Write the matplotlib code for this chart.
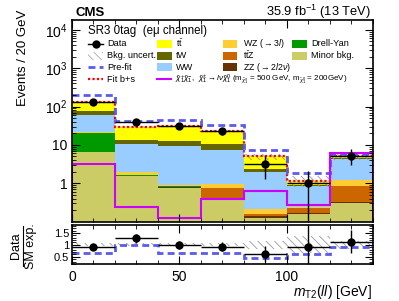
import numpy as np
import matplotlib
matplotlib.use("Agg")
import matplotlib.pyplot as plt
from matplotlib.patches import Rectangle
from matplotlib.lines import Line2D
from matplotlib.ticker import FixedLocator, MultipleLocator, LogLocator, NullFormatter

plt.rcParams['font.family'] = ['Liberation Sans', 'DejaVu Sans']
plt.rcParams['mathtext.fontset'] = 'custom'
plt.rcParams['mathtext.rm'] = 'Liberation Sans'
plt.rcParams['mathtext.it'] = 'Liberation Sans:italic'
plt.rcParams['mathtext.bf'] = 'Liberation Sans:bold'
plt.rcParams['hatch.linewidth'] = 0.6

# ---------------- data ----------------
bin_edges = [0, 20, 40, 60, 80, 100, 120, 140]
minor_bkg = [6.6, 1.52, 0.77, 0.38, 0.127, 0.155, 0.31]
zz = [0.05, 0.02, 0.02, 0.03, 0.010, 0.010, 0.02]
ttz = [0.05, 0.03, 0.02, 0.36, 0.018, 0.062, 0.52]
drell_yan = [13.9, 0.08, 0.02, 0.0, 0.0, 0.0, 0.0]
wz = [1.4, 0.30, 0.07, 0.21, 0.063, 0.013, 0.40]
ww = [40.0, 8.35, 8.5, 6.62, 1.75, 0.595, 3.15]
tw = [13.7, 3.0, 3.1, 3.3, 0.45, 0.085, 0.20]
ttbar = [57.0, 16.2, 18.9, 11.9, 2.65, 0.23, 0.47]

data = [128, 38.5, 31, 22.8, 3.13, 1.04, 5.3]
data_err_lo = [11, 6.2, 5.6, 4.8, 1.8, 1.0, 2.35]
data_err_hi = [11, 6.2, 5.6, 4.8, 2.1, 1.0, 2.4]
prefit = [198, 41.6, 46, 34, 7.6, 1.86, 5.7]
signal = [3.1, 0.236, 0.124, 0.40, 0.63, 0.277, 6.3]
band_lo = [0.95, 0.95, 0.95, 0.95, 0.82, 0.68, 0.82]
band_hi = [1.06, 1.06, 1.06, 1.06, 1.17, 1.35, 1.15]

ratio = [0.93, 1.27, 0.99, 0.93, 0.63, 0.93, 1.14]
ratio_err_lo = [0.08, 0.19, 0.18, 0.20, 0.36, 0.93, 0.48]
ratio_err_hi = [0.08, 0.19, 0.18, 0.20, 0.33, 1.00, 0.48]
ratio_prefit = [0.68, 0.99, 0.68, 0.68, 0.43, 0.61, 0.93]

components = [
    ("Minor bkg.", minor_bkg, "#CCCC66"),
    ("ZZ", zz, "#663300"),
    ("ttZ", ttz, "#CC6600"),
    ("Drell-Yan", drell_yan, "#009900"),
    ("WZ", wz, "#FFCC33"),
    ("WW", ww, "#99CCFF"),
    ("tW", tw, "#666600"),
    ("ttbar", ttbar, "#FFFF00"),
]
col = dict((n, c) for n, _, c in components)

W, H = 399, 301
fig = plt.figure(figsize=(W / 100, H / 100), dpi=100)

def fx(x):
    return x / W

def fy(y):
    return 1 - y / H

ax = fig.add_axes([fx(72), fy(221.7), fx(372.7) - fx(72), fy(20) - fy(221.7)])
rx = fig.add_axes([fx(72), fy(264), fx(372.7) - fx(72), fy(225) - fy(264)])

edges = np.array(bin_edges, dtype=float)
centers = 0.5 * (edges[:-1] + edges[1:])
widths = np.diff(edges)

bottom = np.full(len(centers), 1e-3)
for name, vals, c in components:
    top = bottom + np.array(vals)
    ax.stairs(top, edges, baseline=bottom, fill=True, color=c, lw=0)
    bottom = top
total = bottom

# uncertainty band
ax.bar(centers, total * (np.array(band_hi) - np.array(band_lo)), bottom=total * np.array(band_lo),
       width=widths, fill=False, hatch='\\\\\\\\', edgecolor='#999999', linewidth=0)
# fit b+s
ax.stairs(total, edges, baseline=None, color='red', ls=(0, (1, 1)), lw=1.6)
# pre-fit
ax.stairs(prefit, edges, baseline=None, color='#5b5bea', ls=(0, (2.5, 1.5)), lw=2.0)
# signal
ax.stairs(signal, edges, baseline=1e-3, color='#CC00FF', lw=1.5)
# data
ax.errorbar(centers, data, xerr=widths / 2, yerr=[data_err_lo, data_err_hi], fmt='o',
            color='black', ms=5, lw=1, capsize=0)

ax.set_yscale('log')
ax.set_xlim(0, 140)
ax.set_ylim(0.1, 1.8e4)
ax.yaxis.set_major_locator(FixedLocator([1, 10, 100, 1000, 10000]))
ax.set_yticklabels(['1', '10', '$10^{2}$', '$10^{3}$', '$10^{4}$'])
ax.yaxis.set_minor_locator(LogLocator(base=10, subs=np.arange(2, 10)))
ax.yaxis.set_minor_formatter(NullFormatter())
ax.xaxis.set_major_locator(MultipleLocator(50))
ax.xaxis.set_minor_locator(MultipleLocator(10))
ax.set_xticklabels([])

for a in (ax, rx):
    a.tick_params(which='both', direction='in', top=True, right=True, labelsize=10, pad=3)
    a.tick_params(which='major', length=6, width=0.8)
    a.tick_params(which='minor', length=3, width=0.6)
    for s in a.spines.values():
        s.set_linewidth(1.2)

# ratio panel
rx.bar(centers, np.array(band_hi) - np.array(band_lo), bottom=band_lo, width=widths,
       fill=False, hatch='\\\\\\\\', edgecolor='#999999', linewidth=0)
rx.stairs(ratio_prefit, edges, baseline=None, color='#5b5bea', ls=(0, (2.5, 1.5)), lw=2.0)
rx.errorbar(centers, ratio, xerr=widths / 2, yerr=[ratio_err_lo, ratio_err_hi], fmt='o',
            color='black', ms=5, lw=1, capsize=0)
rx.set_xlim(0, 140)
rx.set_ylim(0.2, 1.83)
rx.yaxis.set_major_locator(FixedLocator([0.5, 1, 1.5]))
rx.set_yticklabels(['0.5', '1', '1.5'])
rx.yaxis.set_minor_locator(MultipleLocator(0.1))
rx.xaxis.set_major_locator(MultipleLocator(50))
rx.xaxis.set_minor_locator(MultipleLocator(10))
rx.tick_params(axis='y', which='major', labelsize=8, pad=2)
rx.tick_params(axis='x', which='major', pad=4)

# labels
fig.text(fx(23), fy(10), 'Events / 20 GeV', rotation=90, ha='center', va='top', fontsize=9.5)
fig.text(fx(16.5), fy(246), 'Data', rotation=90, ha='center', va='center', fontsize=9)
fig.text(fx(31), fy(246), 'SM exp.', rotation=90, ha='center', va='center', fontsize=9)
fig.add_artist(Line2D([fx(23.3), fx(23.3)], [fy(226), fy(266)], transform=fig.transFigure,
                      color='black', lw=0.8))
fig.text(fx(372), fy(296), r'$m_{\mathrm{T2}}(ll)$ [GeV]', ha='right', va='baseline', fontsize=10)
fig.text(fx(75), fy(16), 'CMS', ha='left', va='baseline', fontsize=9.5, fontweight='bold')
fig.text(fx(371), fy(16), r'35.9 fb$^{-1}$ (13 TeV)', ha='right', va='baseline', fontsize=9.3)
fig.text(fx(88), fy(34), 'SR3 0tag  (e\u03bc channel)', ha='left', va='baseline', fontsize=8.3)

# legend
lfs = 6.6

def legtext(x, y, s, fs=lfs):
    fig.text(fx(x), fy(y), s, ha='left', va='center', fontsize=fs)

def legbox(x0, x1, y, color, hatch=None):
    h = 7.5
    if hatch:
        r = Rectangle((fx(x0), fy(y + h / 2)), fx(x1) - fx(x0), fy(y - h / 2) - fy(y + h / 2),
                      transform=fig.transFigure, fill=False, hatch=hatch, edgecolor='#aaaaaa', lw=0)
    else:
        r = Rectangle((fx(x0), fy(y + h / 2)), fx(x1) - fx(x0), fy(y - h / 2) - fy(y + h / 2),
                      transform=fig.transFigure, facecolor=color, edgecolor='none')
    fig.add_artist(r)

def legline(x0, x1, y, **kw):
    fig.add_artist(Line2D([fx(x0), fx(x1)], [fy(y), fy(y)], transform=fig.transFigure, **kw))

rows = [44, 56, 67, 79]
legline(88, 103, rows[0], color='black', lw=1)
fig.add_artist(Line2D([fx(95.5)], [fy(rows[0])], transform=fig.transFigure, marker='o', ms=5, color='black'))
legtext(107, rows[0], 'Data')
legbox(88, 103, rows[1], None, hatch='\\\\\\\\')
legtext(107, rows[1], 'Bkg. uncert.')
legline(88, 103, rows[2], color='#5b5bea', ls=(0, (2.5, 1.5)), lw=2)
legtext(107, rows[2], 'Pre-fit')
legline(88, 103, rows[3], color='red', ls=(0, (1, 1)), lw=1.6)
legtext(107, rows[3], 'Fit b+s')

legbox(157, 172, rows[0], col['ttbar'])
legtext(176, rows[0] - 0.5, r'$\mathrm{t\bar{t}}$', fs=6.3)
legbox(157, 172, rows[1], col['tW'])
legtext(176, rows[1], 'tW')
legbox(157, 172, rows[2], col['WW'])
legtext(176, rows[2], 'WW')
legline(157, 171, rows[3], color='#CC00FF', lw=1.5)
legtext(175, rows[3] + 0.5, r'$\tilde{\chi}^{+}_{1}\tilde{\chi}^{-}_{1}$,  $\tilde{\chi}^{\pm}_{1}\rightarrow l\nu\tilde{\chi}^{0}_{1}$ '
        r'($\mathrm{m}_{\tilde{\chi}^{\pm}_{1}}$ = 500 GeV, $\mathrm{m}_{\tilde{\chi}^{0}_{1}}$ = 200GeV)', fs=5.8)

legbox(223, 237, rows[0], col['WZ'])
legtext(243, rows[0], r'WZ ($\rightarrow 3l$)', fs=6.3)
legbox(223, 237, rows[1], col['ttZ'])
legtext(243, rows[1] - 1, r'$\mathrm{t\bar{t}Z}$', fs=6.3)
legbox(223, 237, rows[2], col['ZZ'])
legtext(243, rows[2] + 0.5, r'ZZ ($\rightarrow 2l2\nu$)', fs=6.3)

legbox(292, 307, rows[0], col['Drell-Yan'])
legtext(311, rows[0], 'Drell-Yan')
legbox(292, 307, rows[1], col['Minor bkg.'])
legtext(311, rows[1], 'Minor bkg.')

fig.savefig('out.png', dpi=100)
